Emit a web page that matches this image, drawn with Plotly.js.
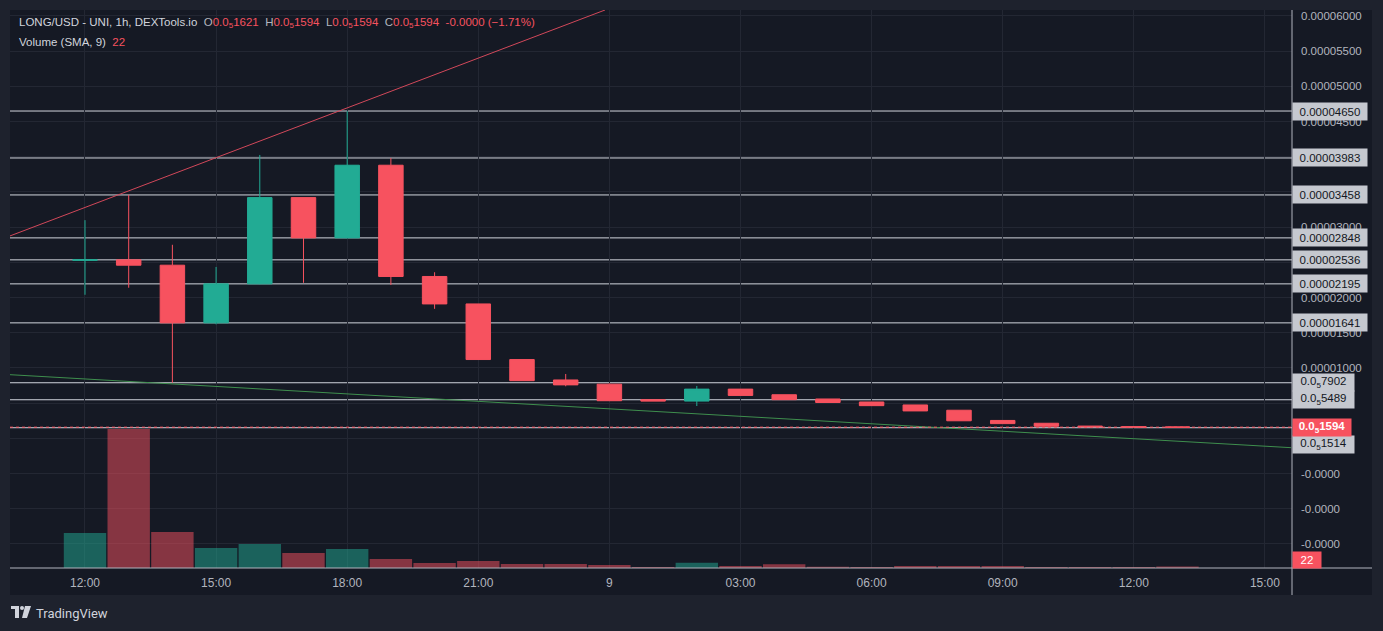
<!DOCTYPE html>
<html><head><meta charset="utf-8">
<script src="https://cdn.plot.ly/plotly-3.0.1.min.js"></script>
<style>html,body{margin:0;padding:0;background:#1e222d;overflow:hidden}</style>
</head><body><div id="chart" style="width:1383px;height:631px"></div>
<script>
// ---- data (prices in USD) ----
const times = ['12:00','13:00','14:00','15:00','16:00','17:00','18:00','19:00','20:00','21:00','22:00','23:00',
               '00:00','01:00','02:00','03:00','04:00','05:00','06:00','07:00','08:00','09:00','10:00','11:00','12:00','13:00'];
const open  = [25.30e-6,25.36e-6,24.60e-6,16.41e-6,21.95e-6,34.20e-6,28.48e-6,38.80e-6,23.00e-6,19.10e-6,11.20e-6,8.30e-6,
               7.70e-6,5.50e-6,5.30e-6,7.00e-6,6.20e-6,5.60e-6,5.17e-6,4.75e-6,4.00e-6,2.55e-6,2.15e-6,1.75e-6,1.66e-6,1.621e-6];
const high  = [31.00e-6,34.58e-6,27.50e-6,24.35e-6,40.26e-6,34.20e-6,46.50e-6,39.83e-6,23.60e-6,19.10e-6,11.20e-6,9.15e-6,
               7.80e-6,5.50e-6,7.45e-6,7.00e-6,6.20e-6,5.60e-6,5.17e-6,4.75e-6,4.00e-6,2.55e-6,2.15e-6,1.75e-6,1.66e-6,1.621e-6];
const low   = [20.40e-6,21.40e-6,7.902e-6,16.20e-6,21.90e-6,22.10e-6,28.40e-6,21.80e-6,18.40e-6,11.20e-6,8.20e-6,7.40e-6,
               5.30e-6,5.30e-6,4.60e-6,6.10e-6,5.50e-6,5.10e-6,4.65e-6,3.90e-6,2.50e-6,2.10e-6,1.72e-6,1.66e-6,1.621e-6,1.594e-6];
const close = [25.36e-6,24.60e-6,16.41e-6,21.95e-6,34.20e-6,28.48e-6,38.80e-6,23.00e-6,19.10e-6,11.20e-6,8.20e-6,7.60e-6,
               5.35e-6,5.30e-6,7.00e-6,6.10e-6,5.50e-6,5.10e-6,4.65e-6,3.90e-6,2.50e-6,2.10e-6,1.72e-6,1.66e-6,1.621e-6,1.594e-6];
const volume = [525,2085,540,300,360,225,285,135,75,105,60,60,45,15,80,30,55,20,15,30,30,30,15,15,15,22];

const levels = [46.50e-6,39.83e-6,34.58e-6,28.48e-6,25.36e-6,21.95e-6,16.41e-6,7.902e-6,5.489e-6,1.514e-6];
const lastPrice = 1.594e-6;
const lastVolume = 22;
const legendOHLC = [1.621e-6,1.594e-6,1.594e-6,1.594e-6];
const legendChange = '-0.0000 (\u22121.71%)';

const xTickLabels = ['12:00','15:00','18:00','21:00','9','03:00','06:00','09:00','12:00','15:00'];
const xTickStep = 3;
const yTickValues = [-15e-6,-10e-6,-5e-6,0,5e-6,10e-6,15e-6,20e-6,25e-6,30e-6,35e-6,40e-6,45e-6,50e-6,55e-6,60e-6];
const yTickHidden = [0, 5e-6, 25e-6, 35e-6, 40e-6]; // labels fully hidden behind price labels in the original

// trend lines: [x(hour index), price]
const redTrendX = [-1.72, 11.9], redTrendY = [28.75e-6, 60.85e-6];
const greenTrendX = [-1.72, 27.6], greenTrendY = [9.05e-6, -1.32e-6];

// ---- helpers ----
const UP = '#22ab94', DOWN = '#f7525f';
const W = 1383, H = 631, ML = 10, MR = 91, MT = 10, MB = 63;
const PW = W - ML - MR, PH = H - MT - MB;
const px = x => (x - ML) / PW;
const py = y => (H - MB - y) / PH;
function fmtPrice(v){
  if (v >= 1e-5) return v.toFixed(8);
  return '0.0<sub>5</sub>' + Math.round(v * 1e9);
}
const xs = times.map((_, i) => i);

const traces = [];
traces.push({
  type:'bar', x: xs, y: volume, yaxis:'y2', hoverinfo:'skip',
  marker:{color: xs.map(i => close[i] >= open[i] ? 'rgba(34,171,148,0.5)' : 'rgba(247,82,95,0.5)'), line:{width:0}}
});
traces.push({
  type:'candlestick', x: xs, open, high, low, close, hoverinfo:'skip',
  increasing:{line:{color:UP, width:1}, fillcolor:UP},
  decreasing:{line:{color:DOWN, width:1}, fillcolor:DOWN},
  whiskerwidth: 0
});
traces.push({type:'scatter', mode:'lines', x: redTrendX, y: redTrendY, line:{color:'#d2485a', width:1}, hoverinfo:'skip'});
traces.push({type:'scatter', mode:'lines', x: greenTrendX, y: greenTrendY, line:{color:'#3f8f4e', width:1}, hoverinfo:'skip'});

const shapes = [];
shapes.push({type:'rect', xref:'paper', yref:'paper', x0:px(10), x1:px(1372), y0:py(595), y1:py(10),
  fillcolor:'#151924', line:{width:0}, layer:'below'});
levels.forEach(v => shapes.push({type:'line', xref:'paper', x0:0, x1:1, yref:'y', y0:v, y1:v,
  line:{color:'#d1d4dc', width:1}, layer:'between'}));
shapes.push({type:'line', xref:'paper', x0:0, x1:1, yref:'y', y0:lastPrice, y1:lastPrice,
  line:{color:'#f7525f', width:1, dash:'dot'}, layer:'above'});
shapes.push({type:'line', xref:'paper', yref:'paper', x0:0, x1:px(1372), y0:0, y1:0, line:{color:'#b2b5be', width:1}});
shapes.push({type:'line', xref:'paper', yref:'paper', x0:1, x1:1, y0:py(595), y1:1, line:{color:'#b2b5be', width:1}});
const logoC = '#d1d4dc';
shapes.push({type:'rect', xref:'paper', yref:'paper', x0:px(11), x1:px(19), y0:py(609), y1:py(606), fillcolor:logoC, line:{width:0}});
shapes.push({type:'rect', xref:'paper', yref:'paper', x0:px(15), x1:px(19), y0:py(618), y1:py(606), fillcolor:logoC, line:{width:0}});
shapes.push({type:'circle', xref:'paper', yref:'paper', x0:px(20), x1:px(24), y0:py(610), y1:py(606), fillcolor:logoC, line:{width:0}});
shapes.push({type:'path', xref:'paper', yref:'paper',
  path:`M ${px(25)} ${py(606)} L ${px(31)} ${py(606)} L ${px(27)} ${py(618)} L ${px(22)} ${py(618)} Z`,
  fillcolor:logoC, line:{width:0}});

const annotations = [];
const FONT = 'Liberation Sans, Arial, sans-serif';
levels.forEach((v, i) => {
  const big = v >= 1e-5;
  annotations.push({xref:'paper', x:1, xanchor:'left', yref:'y', y:v, yanchor:'middle',
    yshift: (i === levels.length - 1) ? -17 : 0,
    text: fmtPrice(v), showarrow:false, bgcolor:'#c5c8cf', borderpad:2,
    width: big ? 70 : 57, height: 13, align:'center',
    font:{family:FONT, size:11.5, color:'#131722'}});
});
annotations.push({xref:'paper', x:1, xanchor:'left', yref:'y', y:lastPrice, yanchor:'middle',
  text:'<b>' + fmtPrice(lastPrice) + '</b>', showarrow:false, bgcolor:'#f7525f', borderpad:2,
  width:54, height:13, font:{family:FONT, size:11.5, color:'#ffffff'}});
annotations.push({xref:'paper', x:1, xanchor:'left', yref:'paper', y:py(569), yanchor:'bottom',
  text:String(lastVolume), showarrow:false, bgcolor:'#f7525f', borderpad:2,
  width:24, height:12, font:{family:FONT, size:11.5, color:'#ffffff'}});
const G = c => `<span style="color:#b2b5be">${c}</span>`;
const R = c => `<span style="color:#f7525f">${c}</span>`;
const sp = '\u00a0\u00a0';
annotations.push({xref:'paper', yref:'paper', x:px(17), y:py(23), xanchor:'left', yanchor:'middle', showarrow:false, align:'left',
  text: `<span style="color:#d1d4dc">LONG/USD - UNI, 1h, DEXTools.io</span>${sp}` +
        G('O') + R(fmtPrice(legendOHLC[0])) + sp + G('H') + R(fmtPrice(legendOHLC[1])) + sp +
        G('L') + R(fmtPrice(legendOHLC[2])) + sp + G('C') + R(fmtPrice(legendOHLC[3])) + sp + R(legendChange),
  font:{family:FONT, size:11.5, color:'#d1d4dc'}});
annotations.push({xref:'paper', yref:'paper', x:px(17), y:py(42), xanchor:'left', yanchor:'middle', showarrow:false, align:'left',
  text: `<span style="color:#d1d4dc">Volume (SMA, 9)</span>${sp}` + R(String(lastVolume)),
  font:{family:FONT, size:11.5, color:'#d1d4dc'}});
annotations.push({xref:'paper', yref:'paper', x:px(34), y:py(613), xanchor:'left', yanchor:'middle', showarrow:false,
  text:'TradingView', font:{family:'Roboto, sans-serif', size:13, color:'#d1d4dc'}});

const layout = {
  width:W, height:H, margin:{l:ML, r:MR, t:MT, b:MB},
  paper_bgcolor:'#1e222d', plot_bgcolor:'#151924',
  showlegend:false, boxgap:0.2, bargap:0.03, dragmode:false,
  xaxis:{range:[-1.716, 27.62], tickvals: xTickLabels.map((_, i) => i * xTickStep), ticktext: xTickLabels,
    showgrid:true, gridcolor:'#232733', zeroline:false, showline:false, ticks:'',
    tickfont:{family:FONT, size:12, color:'#b2b5be'}, ticklabelstandoff:6, rangeslider:{visible:false}, fixedrange:true},
  yaxis:{range:[-18.41e-6, 60.85e-6], side:'right', tickvals:yTickValues,
    ticktext: yTickValues.map(v => yTickHidden.some(h => Math.abs(h - v) < 1e-12) ? '' : (v < 0 ? '-0.0000' : v.toFixed(8))),
    showgrid:true, gridcolor:'#232733', zeroline:false, showline:false, ticks:'',
    tickfont:{family:FONT, size:11.5, color:'#b2b5be'}, ticklabelstandoff:8, fixedrange:true},
  yaxis2:{overlaying:'y', range:[0, 8370], visible:false, fixedrange:true},
  shapes, annotations
};
Plotly.newPlot('chart', traces, layout, {staticPlot:true, displayModeBar:false});
</script></body></html>
